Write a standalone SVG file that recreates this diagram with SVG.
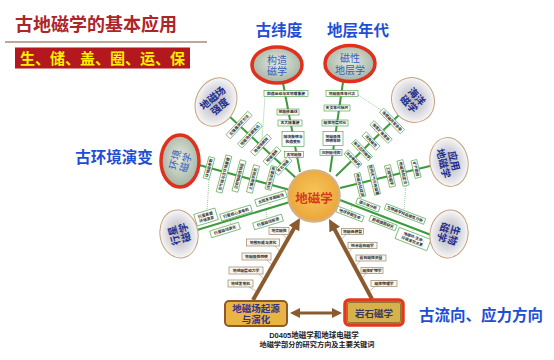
<svg xmlns="http://www.w3.org/2000/svg" width="554" height="360" viewBox="0 0 554 360">
<style>
text{font-family:"Liberation Sans","Noto Sans CJK SC",sans-serif}
.sp{stroke:#3d9b3d;stroke-width:2;fill:none}
.dt{stroke:#59a259;stroke-width:0.6;stroke-dasharray:1 1;fill:none}
.ld{stroke:#9a8570;stroke-width:0.5;fill:none}
.arr{stroke:#8b5b30;stroke-width:4;fill:none}
.kb rect{fill:#fff;stroke:#3d9b3d;stroke-width:0.6}
.bb rect{fill:#fbf7ef;stroke:#9a8570;stroke-width:0.7}
.kt{font-size:3.8px;font-weight:bold;fill:#2a2a2a;text-anchor:middle}
.rb{fill:url(#gG);stroke:#e0301e;stroke-width:3.5}
.tb{fill:url(#gT);stroke:#c6a27e;stroke-width:1}
.rt{font-size:10px;fill:#3a5bbf;text-anchor:middle}
.tt{font-size:10px;font-weight:bold;fill:#1c2c8c;text-anchor:middle}
.lab{font-size:15.5px;font-weight:bold;fill:#1f4ed6;text-anchor:middle}
</style>
<defs>
<radialGradient id="gG" cx="50%" cy="45%" r="55%"><stop offset="0" stop-color="#e4eae0"/><stop offset="1" stop-color="#a3b3a3"/></radialGradient>
<radialGradient id="gT" cx="50%" cy="50%" r="55%"><stop offset="0" stop-color="#b4b4bc"/><stop offset="0.55" stop-color="#d8d8de"/><stop offset="1" stop-color="#ffffff"/></radialGradient>
<radialGradient id="gO" cx="50%" cy="45%" r="55%"><stop offset="0" stop-color="#f8c65a"/><stop offset="1" stop-color="#eba63a"/></radialGradient>
<marker id="ah" viewBox="0 0 10 10" refX="3" refY="5" markerWidth="12" markerHeight="12" markerUnits="userSpaceOnUse" orient="auto"><path d="M0,0 L10,5 L0,10 z" fill="#8b5b30"/></marker>
<marker id="ah2" viewBox="0 0 10 10" refX="3" refY="5" markerWidth="10" markerHeight="10" markerUnits="userSpaceOnUse" orient="auto-start-reverse"><path d="M0,0 L10,5 L0,10 z" fill="#8b5b30"/></marker>
</defs>
<rect width="554" height="360" fill="#fff"/>

<g id="title">
<text x="15" y="31" font-size="18" font-weight="bold" fill="#ad2429">古地磁学的基本应用</text>
<line x1="5" y1="42" x2="207" y2="42" stroke="#a88a78" stroke-width="1.5"/>
<rect x="15" y="47.5" width="175" height="21" fill="#b2181e"/>
<text x="102.5" y="64" font-size="15" font-weight="bold" fill="#fff000" text-anchor="middle">生、储、盖、圈、运、保</text>
</g>

<g id="labels">
<text class="lab" x="279" y="36">古纬度</text>
<text class="lab" x="358" y="36">地层年代</text>
<text class="lab" x="114" y="163">古环境演变</text>
<text class="lab" x="481" y="321">古流向、应力方向</text>
</g>

<g id="connectors">
<path class="sp" d="M283,83 L300,172"/>
<path class="sp" d="M343,82 L330,172"/>
<path class="sp" d="M229,116 L296,178"/>
<path class="sp" d="M199,165 L290,190"/>
<path class="sp" d="M197,230 L290,202"/>
<path class="sp" d="M399,115 L336,176"/>
<path class="sp" d="M430,166 L340,188"/>
<path class="sp" d="M431,235 L340,200"/>
<path class="dt" d="M265,96.5 L262,140"/>
<path class="dt" d="M358,95 L384,112"/>
<path class="dt" d="M209,180 L207,211"/>
<path class="dt" d="M406,186 L404,210"/>
<path class="dt" d="M231,221 L230,226"/>
<path class="dt" d="M266,210 L267,218"/>
<path class="dt" d="M270,202 L270,206"/>
<path class="dt" d="M383,215 L383,219"/>
<path class="dt" d="M352,204 L351,210"/>
<path class="dt" d="M413,228 L413,233"/>
<path class="ld" d="M283,234.5 L288,240"/>
<path class="ld" d="M275,246 L280.6,252"/>
<path class="ld" d="M267,260 L272.8,266"/>
<path class="ld" d="M259,274 L264.5,280"/>
<path class="ld" d="M249,287 L257.6,292"/>
<path class="ld" d="M346,234.5 L340.7,240"/>
<path class="ld" d="M352,248.5 L347.8,254"/>
<path class="ld" d="M360,261 L354.8,267"/>
<path class="ld" d="M366,273.5 L361.2,279"/>
<path class="ld" d="M375,286.5 L368.2,292"/>
<path class="arr" d="M253,300 L295.8,225.3" marker-end="url(#ah)"/>
<path class="arr" d="M372,299 L333,226.4" marker-end="url(#ah)"/>
<path stroke="#8b5b30" stroke-width="3" fill="none" d="M297,313 L335,313" marker-start="url(#ah2)" marker-end="url(#ah2)"/>
</g>

<g id="keywords">
<g id="b1" class="kb" transform="translate(286 93.5)"><rect x="-22" y="-3" width="44" height="6"/><text class="kt" y="1.4">构造运动与古地理重建</text></g>
<g id="b2" class="kb" transform="translate(288 112)"><rect x="-11" y="-3" width="22" height="6"/><text class="kt" y="1.4">视极移曲线</text></g>
<g id="b3" class="kb" transform="translate(290 123)"><rect x="-12" y="-3" width="24" height="6"/><text class="kt" y="1.4">古大陆重建</text></g>
<g id="b4" class="kb" transform="translate(293 139)"><rect x="-11" y="-7.5" width="22" height="15"/><text class="kt" y="-0.8">陆块旋转与</text><text class="kt" y="3.8">构造变形</text></g>
<g id="b5" class="kb" transform="translate(294 154.5)"><rect x="-9.5" y="-3" width="19" height="6"/><text class="kt" y="1.4">古地磁极</text></g>

<g id="c1" class="kb" transform="translate(342 93.5)"><rect x="-16" y="-3" width="32" height="6"/><text class="kt" y="1.4">地磁极性年代表</text></g>
<g id="c2" class="kb" transform="translate(337 108)"><rect x="-13" y="-3" width="26" height="6"/><text class="kt" y="1.4">天文年代标尺</text></g>
<g id="c3" class="kb" transform="translate(335 123)"><rect x="-13" y="-3" width="26" height="6"/><text class="kt" y="1.4">磁性地层对比</text></g>
<g id="c4" class="kb" transform="translate(333 138.5)"><rect x="-10" y="-7" width="20" height="14"/><text class="kt" y="-0.8">地磁极性</text><text class="kt" y="3.8">倒转年龄</text></g>
<g id="c5" class="kb" transform="translate(331 152.5)"><rect x="-11" y="-3" width="22" height="6"/><text class="kt" y="1.4">沉积磁组构</text></g>

<g id="d1" class="kb" transform="translate(239 125) rotate(-47)"><rect x="-16" y="-3" width="32" height="6"/><text class="kt" y="1.4">古强度测定方法</text></g>
<g id="d2" class="kb" transform="translate(250 135) rotate(-47)"><rect x="-15" y="-3" width="30" height="6"/><text class="kt" y="1.4">地磁场长期变化</text></g>
<g id="d3" class="kb" transform="translate(261 145) rotate(-47)"><rect x="-12" y="-3" width="24" height="6"/><text class="kt" y="1.4">地磁场倒转</text></g>
<g id="d4" class="kb" transform="translate(272 156) rotate(-47)"><rect x="-10" y="-3" width="20" height="6"/><text class="kt" y="1.4">地磁漂移</text></g>
<g id="d5" class="kb" transform="translate(283 166) rotate(-47)"><rect x="-10" y="-3" width="20" height="6"/><text class="kt" y="1.4">考古地磁</text></g>

<g id="e1" class="kb" transform="translate(209 168) rotate(-75)"><rect x="-11" y="-3" width="22" height="6"/><text class="kt" y="1.4">环境磁参数</text></g>
<g id="e2" class="kb" transform="translate(224 174) rotate(-75)"><rect x="-19" y="-3" width="38" height="6"/><text class="kt" y="1.4">古气候与古环境重建</text></g>
<g id="e3" class="kb" transform="translate(239 176) rotate(-75)"><rect x="-16" y="-3" width="32" height="6"/><text class="kt" y="1.4">沉积物磁性特征</text></g>
<g id="e4" class="kb" transform="translate(253 179) rotate(-75)"><rect x="-14" y="-3" width="28" height="6"/><text class="kt" y="1.4">土壤磁学研究</text></g>
<g id="e5" class="kb" transform="translate(271 178) rotate(-75)"><rect x="-12" y="-3" width="24" height="6"/><text class="kt" y="1.4">环境污染监测</text></g>

<g id="f1" class="kb" transform="translate(206 217) rotate(-17)"><rect x="-11" y="-6" width="22" height="12"/><text class="kt" y="-0.8">行星表面</text><text class="kt" y="3.8">环境演变</text></g>
<g id="f2" class="kb" transform="translate(236 213) rotate(-17)"><rect x="-16" y="-3.5" width="32" height="7"/><text class="kt" y="1.4">行星核心发电机</text></g>
<g id="f3" class="kb" transform="translate(271 198.5) rotate(-17)"><rect x="-16" y="-3.5" width="32" height="7"/><text class="kt" y="1.4">太阳系早期磁场</text></g>
<g id="f4" class="kb" transform="translate(268 222) rotate(-17)"><rect x="-15" y="-3.5" width="30" height="7"/><text class="kt" y="1.4">行星磁场探测</text></g>
<g id="f5" class="kb" transform="translate(225 230) rotate(-17)"><rect x="-15" y="-3.5" width="30" height="7"/><text class="kt" y="1.4">行星磁场演化</text></g>

<g id="g1" class="kb" transform="translate(392 121) rotate(46)"><rect x="-15" y="-3" width="30" height="6"/><text class="kt" y="1.4">海底磁异常条带</text></g>
<g id="g2" class="kb" transform="translate(381 132) rotate(46)"><rect x="-13" y="-3" width="26" height="6"/><text class="kt" y="1.4">海底扩张速率</text></g>
<g id="g3" class="kb" transform="translate(371 141) rotate(46)"><rect x="-10" y="-3" width="20" height="6"/><text class="kt" y="1.4">洋壳磁性</text></g>
<g id="g4" class="kb" transform="translate(362 150) rotate(46)"><rect x="-12" y="-3" width="24" height="6"/><text class="kt" y="1.4">海洋沉积磁学</text></g>
<g id="g5" class="kb" transform="translate(353 159) rotate(46)"><rect x="-10" y="-3" width="20" height="6"/><text class="kt" y="1.4">洋中脊研究</text></g>

<g id="h1" class="kb" transform="translate(416 169) rotate(76)"><rect x="-9" y="-3" width="18" height="6"/><text class="kt" y="1.4">矿产勘探</text></g>
<g id="h2" class="kb" transform="translate(403 173) rotate(76)"><rect x="-13" y="-3" width="26" height="6"/><text class="kt" y="1.4">地磁导航定位</text></g>
<g id="h3" class="kb" transform="translate(390 176) rotate(76)"><rect x="-11" y="-3" width="22" height="6"/><text class="kt" y="1.4">工程地磁学</text></g>
<g id="h4" class="kb" transform="translate(374 180) rotate(76)"><rect x="-15" y="-3" width="30" height="6"/><text class="kt" y="1.4">空间天气与地磁暴</text></g>
<g id="h5" class="kb" transform="translate(360 185) rotate(76)"><rect x="-12" y="-3" width="24" height="6"/><text class="kt" y="1.4">地磁台站观测</text></g>

<g id="i1" class="kb" transform="translate(368 205) rotate(21)"><rect x="-12" y="-3" width="24" height="6"/><text class="kt" y="1.4">磁小体分析</text></g>
<g id="i2" class="kb" transform="translate(405 214) rotate(21)"><rect x="-21" y="-3" width="42" height="6"/><text class="kt" y="1.4">生物磁学样品磁性分析</text></g>
<g id="i3" class="kb" transform="translate(383 223) rotate(21)"><rect x="-14" y="-3" width="28" height="6"/><text class="kt" y="1.4">趋磁细菌研究</text></g>
<g id="i4" class="kb" transform="translate(350 214) rotate(21)"><rect x="-14" y="-3" width="28" height="6"/><text class="kt" y="1.4">地球早期生命</text></g>
<g id="i5" class="kb" transform="translate(413 239) rotate(21)"><rect x="-17" y="-6" width="34" height="12"/><text class="kt" y="-0.8">地磁场-生命-</text><text class="kt" y="3.8">环境演化关系</text></g>

<g id="j1" class="bb" transform="translate(279 231)"><rect x="-10" y="-3.5" width="20" height="7"/><text class="kt" y="1.4">地壳磁性</text></g>
<g id="j2" class="bb" transform="translate(263 242.5)"><rect x="-16.5" y="-3.5" width="33" height="7"/><text class="kt" y="1.4">地核形成与演化</text></g>
<g id="j3" class="bb" transform="translate(256.5 256.5)"><rect x="-14.5" y="-3.5" width="29" height="7"/><text class="kt" y="1.4">地磁极性倒转</text></g>
<g id="j4" class="bb" transform="translate(246 270.5)"><rect x="-17" y="-3.5" width="34" height="7"/><text class="kt" y="1.4">地球磁层动力学</text></g>
<g id="j5" class="bb" transform="translate(240.5 283.5)"><rect x="-12.5" y="-3.5" width="25" height="7"/><text class="kt" y="1.4">地球发电机</text></g>

<g id="k1" class="bb" transform="translate(352.5 231.5)"><rect x="-11" y="-3" width="22" height="6"/><text class="kt" y="1.4">地磁场模型</text></g>
<g id="k2" class="bb" transform="translate(362.5 245.5)"><rect x="-14.5" y="-3" width="29" height="6"/><text class="kt" y="1.4">纳米岩石磁学</text></g>
<g id="k3" class="bb" transform="translate(371 258)"><rect x="-15" y="-3" width="30" height="6"/><text class="kt" y="1.4">岩石磁性测量</text></g>
<g id="k4" class="bb" transform="translate(372 270.5)"><rect x="-11" y="-3" width="22" height="6"/><text class="kt" y="1.4">磁性矿物学</text></g>
<g id="k5" class="bb" transform="translate(384 283.5)"><rect x="-13" y="-3" width="26" height="6"/><text class="kt" y="1.4">磁性物理学</text></g>
</g>

<g id="n-gouzao"><ellipse class="rb" cx="277" cy="65" rx="25" ry="18"/><text class="rt" x="277" y="63.5">构造</text><text class="rt" x="277" y="75">磁学</text></g>
<g id="n-cixing"><ellipse class="rb" cx="350" cy="63.5" rx="25" ry="18"/><text class="rt" x="350" y="62">磁性</text><text class="rt" x="350" y="73.5">地层学</text></g>
<g id="n-huanjing"><ellipse class="rb" cx="180" cy="161" rx="19" ry="26"/><g transform="translate(180 161) rotate(-75)"><text class="rt" y="-1.5">环境</text><text class="rt" y="9.5">磁学</text></g></g>
<g id="n-qiangdu"><ellipse class="tb" cx="216" cy="102" rx="20" ry="25" transform="rotate(25 216 102)"/><g transform="translate(216 102) rotate(-40)"><text class="tt" y="-1.5">地磁场</text><text class="tt" y="9.5">强度</text></g></g>
<g id="n-xingxing"><ellipse class="tb" cx="179" cy="234" rx="19" ry="24" transform="rotate(-10 179 234)"/><g transform="translate(179 234) rotate(-106)"><text class="tt" y="-1.5">行星</text><text class="tt" y="9.5">磁学</text></g></g>
<g id="n-haiyang"><ellipse class="tb" cx="413" cy="100" rx="21" ry="23" transform="rotate(-30 413 100)"/><g transform="translate(413 100) rotate(46)"><text class="tt" y="-1.5">海洋</text><text class="tt" y="9.5">磁学</text></g></g>
<g id="n-yingyong"><ellipse class="tb" cx="449" cy="162" rx="19" ry="24.5" transform="rotate(-10 449 162)"/><g transform="translate(449 162) rotate(76)"><text class="tt" y="-1.5">应用</text><text class="tt" y="9.5">地磁学</text></g></g>
<g id="n-shengwu"><ellipse class="tb" cx="449" cy="234" rx="19" ry="24" transform="rotate(10 449 234)"/><g transform="translate(449 234) rotate(106)"><text class="tt" y="-1.5">生物</text><text class="tt" y="9.5">磁学</text></g></g>

<g id="n-center"><circle cx="314" cy="196" r="25.5" fill="url(#gO)" stroke="#d8b080" stroke-width="2.5"/><text x="314" y="203" font-size="12.5" font-weight="bold" fill="#d9381e" text-anchor="middle">地磁学</text></g>

<g id="n-origin"><rect x="225" y="301" width="62" height="25" rx="4" fill="#eab445" stroke="#8c5a2b" stroke-width="2"/><text x="256" y="312" font-size="9.5" font-weight="bold" fill="#33338a" text-anchor="middle">地磁场起源</text><text x="256" y="322.5" font-size="9.5" font-weight="bold" fill="#33338a" text-anchor="middle">与演化</text></g>
<g id="n-rock"><rect x="345" y="300" width="58" height="25" rx="4" fill="#d6b24e" stroke="#e23a1e" stroke-width="3.5"/><rect x="347.5" y="302.5" width="53" height="20" rx="2" fill="none" stroke="#7a5a2a" stroke-width="0.7"/><text x="374" y="316.5" font-size="9.5" font-weight="bold" fill="#3a3a5a" text-anchor="middle">岩石磁学</text></g>

<g id="caption">
<text x="314" y="338" font-size="7.5" font-weight="bold" fill="#222" text-anchor="middle">D0405地磁学和地球电磁学</text>
<text x="317" y="346.5" font-size="7.2" font-weight="bold" fill="#222" text-anchor="middle">地磁学部分的研究方向及主要关键词</text>
</g>
</svg>
